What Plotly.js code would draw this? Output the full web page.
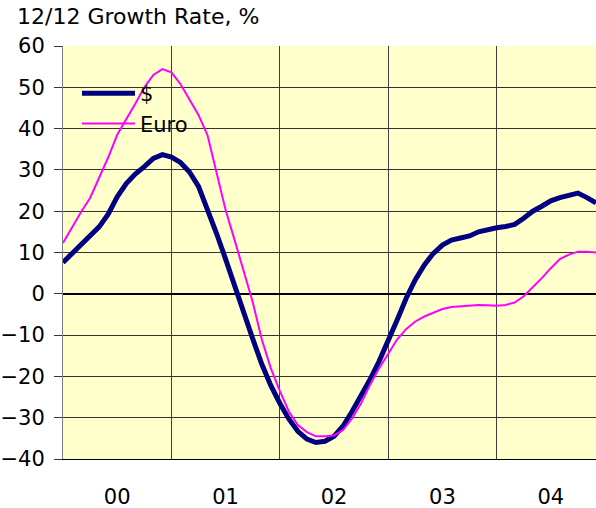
<!DOCTYPE html>
<html>
<head>
<meta charset="utf-8">
<script src="https://cdn.plot.ly/plotly-3.0.1.min.js"></script>
<style>html,body{margin:0;padding:0;background:#fff;}#chart{width:596px;height:508px;}</style>
</head>
<body>
<div id="chart"></div>
<script>
// Year labels (one per year, 12 monthly points each)
const years = ['00', '01', '02', '03', '04'];
const seriesNames = ['$', 'Euro'];

// 12/12 growth rate, %, monthly
const dollar = [
  7.6, 9.8, 11.8, 13.8, 16.2, 19.3, 23.5, 26.7, 29.0, 30.8, 32.8, 33.7,
  33.1, 31.8, 29.5, 26.0, 20.7, 14.6, 8.4, 1.8, -4.5, -10.9, -17.0, -22.2,
  -26.5, -30.3, -33.3, -35.2, -36.0, -35.7, -34.5, -32.0, -28.5, -24.8, -20.7, -16.3,
  -11.5, -6.3, -1.0, 3.4, 7.0, 9.8, 11.8, 13.0, 13.5, 14.0, 15.0, 15.6,
  16.0, 16.3, 16.8, 18.3, 20.0, 21.2, 22.5, 23.3, 23.8, 24.4, 23.3, 22.0
];
const euro = [
  12.3, 16.2, 19.8, 23.2, 28.0, 33.0, 38.5, 42.1, 46.0, 50.0, 53.0, 54.4,
  53.6, 50.8, 47.2, 43.3, 38.4, 29.2, 20.3, 13.0, 5.8, -2.0, -11.0, -18.0,
  -23.5, -28.5, -31.8, -33.5, -34.5, -34.5, -34.3, -33.0, -30.2, -26.5, -22.0, -18.0,
  -14.5, -11.0, -8.5, -6.7, -5.5, -4.5, -3.7, -3.2, -3.0, -2.8, -2.7, -2.8,
  -2.9, -2.7, -2.1, -0.6, 1.5, 3.8, 6.2, 8.4, 9.5, 10.2, 10.2, 10.0
];

const perYear = 12;
const monthIndex = dollar.map((_, i) => i);
const yearCentres = years.map((_, i) => i * perYear + perYear / 2);
const yearBounds = years.slice(1).map((_, i) => (i + 1) * perYear);

const FONT = 'DejaVu Sans, Arial, sans-serif';

const traces = [
  {x: monthIndex, y: dollar, name: seriesNames[0], type: 'scatter', mode: 'lines',
   line: {color: '#000080', width: 5}},
  {x: monthIndex, y: euro, name: seriesNames[1], type: 'scatter', mode: 'lines',
   line: {color: '#FF00FF', width: 2}}
];

const layout = {
  width: 596, height: 508,
  margin: {l: 63, r: 0, t: 46, b: 49, pad: 0},
  paper_bgcolor: '#ffffff',
  plot_bgcolor: '#FFFFCC',
  font: {family: FONT, color: '#000000'},
  title: {
    text: '12/12 Growth Rate, %',
    font: {family: FONT, size: 22, color: '#000000'},
    x: 17 / 596, xanchor: 'left', xref: 'container',
    y: 1 - 16 / 508, yanchor: 'middle', yref: 'container'
  },
  xaxis: {
    range: [0, dollar.length - 1],
    tickmode: 'array', tickvals: yearCentres, ticktext: years,
    ticks: '', showgrid: false, zeroline: false,
    showline: true, linecolor: '#000000', linewidth: 1,
    tickfont: {family: FONT, size: 21, color: '#000000'},
    ticklabelstandoff: 19,
    minor: {tickmode: 'array', tickvals: yearBounds, showgrid: true,
            gridcolor: '#404040', gridwidth: 1, ticks: ''},
    fixedrange: true
  },
  yaxis: {
    range: [-40, 60], tickmode: 'linear', tick0: 0, dtick: 10,
    ticks: 'outside', ticklen: 8, tickcolor: '#333333', tickwidth: 1,
    showgrid: true, gridcolor: '#333333', gridwidth: 1,
    zeroline: true, zerolinecolor: '#000000', zerolinewidth: 2,
    showline: true, linecolor: '#808080', linewidth: 1,
    tickfont: {family: FONT, size: 21, color: '#000000'},
    ticklabelstandoff: 5,
    fixedrange: true
  },
  showlegend: true,
  legend: {
    x: (77 - 63) / 533, xanchor: 'left',
    y: (459 - 73) / 413, yanchor: 'top',
    bgcolor: 'rgba(0,0,0,0)', borderwidth: 0,
    font: {family: FONT, size: 21, color: '#000000'},
    itemwidth: 53
  }
};

Plotly.newPlot('chart', traces, layout, {displayModeBar: false, staticPlot: true});
</script>
</body>
</html>
